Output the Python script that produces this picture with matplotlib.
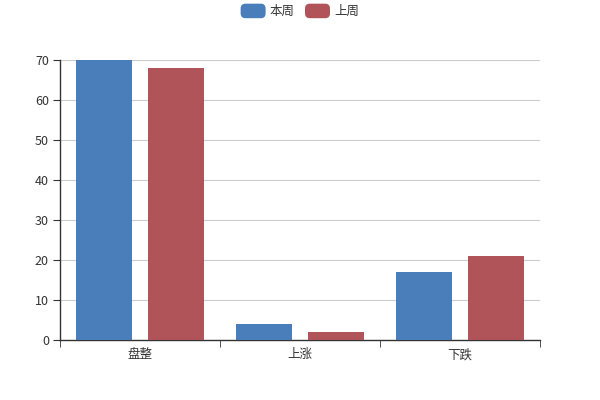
import numpy as np
import matplotlib
matplotlib.use("Agg")
import matplotlib.pyplot as plt
from matplotlib.patches import FancyBboxPatch, Patch
from matplotlib.legend_handler import HandlerPatch

plt.rcParams['font.family'] = ['Noto Sans CJK SC', 'DejaVu Sans']

categories = ['盘整', '上涨', '下跌']
this_week = [70, 4, 17]
last_week = [68, 2, 21]
series_names = ['本周', '上周']
colors = ['#4a7ebb', '#b0545a']


class RoundHandler(HandlerPatch):
    def create_artists(self, legend, orig_handle, xdescent, ydescent,
                       width, height, fontsize, trans):
        p = FancyBboxPatch((-xdescent, -ydescent - 1.5), width, height + 3,
                           boxstyle="round,pad=0,rounding_size=3.5",
                           facecolor=orig_handle.get_facecolor(),
                           edgecolor='none', transform=trans)
        return [p]


fig = plt.figure(figsize=(6, 4), dpi=100)
ax = fig.add_axes([0.1, 0.15, 0.8, 0.7])

x = np.arange(len(categories))
w = 0.345
ax.bar(x - 0.225, this_week, w, color=colors[0], zorder=3)
ax.bar(x + 0.225, last_week, w, color=colors[1], zorder=3)

ax.set_xlim(-0.5, len(categories) - 0.5)
ax.set_ylim(0, 70)
ax.set_yticks(range(0, 71, 10))
ax.grid(axis='y', color='#cccccc', linewidth=0.8, zorder=0)

ax.set_xticks(x)
ax.set_xticklabels(categories)
ax.set_xticks(np.arange(-0.5, len(categories), 1), minor=True)
ax.tick_params(axis='x', which='major', length=0, pad=6)
ax.tick_params(axis='x', which='minor', length=5, color='#333333')
ax.tick_params(axis='y', length=5, color='#333333', pad=3)
ax.tick_params(labelsize=9, labelcolor='#333333')

for s in ['top', 'right']:
    ax.spines[s].set_visible(False)
for s in ['left', 'bottom']:
    ax.spines[s].set_color('#333333')
    ax.spines[s].set_linewidth(1)

handles = [Patch(facecolor=c) for c in colors]
fig.legend(handles, series_names, loc='upper center', ncol=2,
           bbox_to_anchor=(0.5, 1.015), frameon=False, fontsize=9,
           handlelength=2.0, handleheight=0.9, handletextpad=0.35,
           columnspacing=0.8, labelcolor='#333333',
           handler_map={Patch: RoundHandler()})

fig.savefig('out.png', dpi=100)
